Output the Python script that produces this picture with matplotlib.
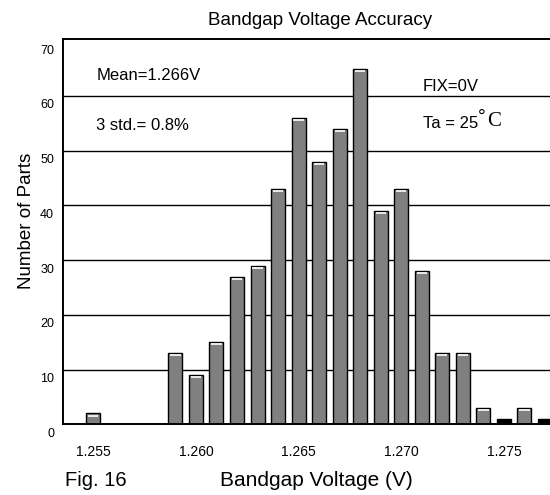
import matplotlib
matplotlib.use("Agg")
import matplotlib.pyplot as plt
from matplotlib.transforms import ScaledTranslation
import numpy as np

plt.rcParams['font.family'] = ['Liberation Sans', 'DejaVu Sans']

# Data
voltages = [1.255, 1.256, 1.257, 1.258, 1.259, 1.260, 1.261, 1.262, 1.263, 1.264,
            1.265, 1.266, 1.267, 1.268, 1.269, 1.270, 1.271, 1.272, 1.273, 1.274,
            1.275, 1.276, 1.277]
counts = [2, 0, 0, 0, 13, 9, 15, 27, 29, 43,
          56, 48, 54, 65, 39, 43, 28, 13, 13, 3,
          1, 3, 1]
xtick_vals = [1.255, 1.260, 1.265, 1.270, 1.275]
xtick_labels = ["1.255", "1.260", "1.265", "1.270", "1.275"]
ytick_vals = [0, 10, 20, 30, 40, 50, 60, 70]

fig = plt.figure(figsize=(5.5, 4.95), dpi=100)
W, H = 550, 495
ax_left_px, ax_top_px, ax_bottom_px = 62.5, 39.0, 424.3
ax_w_px = 503.0
ax = fig.add_axes([ax_left_px / W, (H - ax_bottom_px) / H, ax_w_px / W,
                   (ax_bottom_px - ax_top_px) / H])
ax.set_xlim(1.2535, 1.2780)
ax.set_ylim(0, 70.4)

bar_w = 0.00068
x = np.array(voltages)
y = np.array(counts)
ax.set_axisbelow(True)
face = ['black' if c <= 1 else '#808080' for c in counts]
ax.bar(x, y, width=bar_w, color=face, edgecolor='black', linewidth=1.0, zorder=2)

# white highlight under the top edge of each bar
mask = y > 1
off = ScaledTranslation(0, -2.2 / 100, fig.dpi_scale_trans)
inset = 0.00009
ax.hlines(y[mask], x[mask] - bar_w / 2 + inset, x[mask] + bar_w / 2 - inset,
          colors='white', linewidth=1.2, transform=ax.transData + off, zorder=3)

# grid
ax.set_yticks(ytick_vals)
ax.yaxis.grid(True, color='black', linewidth=1.0)
ax.xaxis.grid(False)
ax.set_xticks(xtick_vals)
ax.set_xticklabels(xtick_labels)
ax.tick_params(axis='both', length=0)
ax.tick_params(axis='y', labelsize=9, pad=6)
ax.tick_params(axis='x', labelsize=10, pad=15)
fig.canvas.draw()
gl = ax.yaxis.get_gridlines()
gl[-1].set_visible(False)
yoff = ScaledTranslation(0, -8 / 100, fig.dpi_scale_trans)
for lab in ax.get_yticklabels():
    lab.set_transform(lab.get_transform() + yoff)

for s in ['left', 'top', 'bottom']:
    ax.spines[s].set_linewidth(1.4)
    ax.spines[s].set_color('black')
ax.spines['right'].set_visible(False)

def axy(py):
    return (ax_bottom_px - py) / (ax_bottom_px - ax_top_px)

def axx(px):
    return (px - ax_left_px) / ax_w_px

# titles / labels
ax.set_title("Bandgap Voltage Accuracy", fontsize=13.5, x=axx(320), y=axy(20),
             va='center', pad=0)
ax.set_xlabel("Bandgap Voltage (V)", fontsize=15)
ax.xaxis.set_label_coords(axx(316.7), axy(480))
ax.xaxis.label.set_va('center')
ax.set_ylabel("Number of Parts", fontsize=13.5)
ax.yaxis.set_label_coords(axx(27), axy(221))
ax.yaxis.label.set_va('center')

fig.text(65 / W, 1 - 480 / H, "Fig. 16", fontsize=14.5, ha='left', va='center')

ax.text(axx(96.5), axy(75), "Mean=1.266V", transform=ax.transAxes, fontsize=12,
        ha='left', va='center')
ax.text(axx(96), axy(125), "3 std.= 0.8%", transform=ax.transAxes, fontsize=12,
        ha='left', va='center')
ax.text(axx(423), axy(86), "FIX=0V", transform=ax.transAxes, fontsize=12,
        ha='left', va='center')
t1 = ax.text(axx(423), axy(127.5), "Ta = 25", transform=ax.transAxes, fontsize=12,
             ha='left', va='baseline')
ax.annotate("°", xy=(1, 0), xycoords=t1, xytext=(0, 3.5), textcoords='offset points',
            fontsize=14, ha='left', va='bottom', family=['Liberation Sans'])
ax.annotate("C", xy=(1, 0), xycoords=t1, xytext=(6.5, 0), textcoords='offset points',
            fontsize=15, ha='left', va='bottom', family=['Liberation Serif'])

fig.savefig("out.png", dpi=100)
